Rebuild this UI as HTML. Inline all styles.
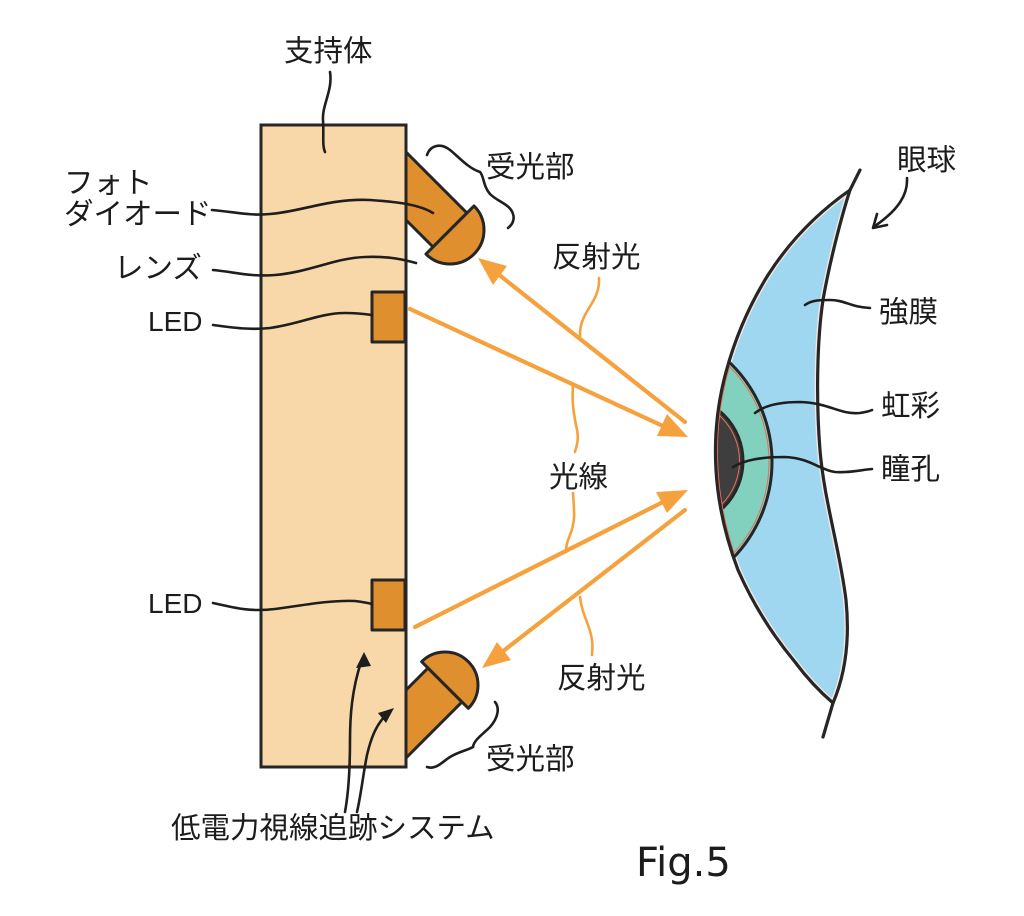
<!DOCTYPE html>
<html>
<head>
<meta charset="utf-8">
<style>
  html,body{margin:0;padding:0;background:#ffffff;}
  svg{display:block;}
  .lbl{font-family:"Liberation Sans","Noto Sans CJK JP",sans-serif;font-size:29.5px;fill:#1c1c1c;}
  .lat{font-family:"Liberation Sans","Noto Sans CJK JP",sans-serif;font-size:28px;fill:#1c1c1c;}
  .fig{font-family:"DejaVu Sans","Liberation Sans",sans-serif;font-size:40px;fill:#1c1c1c;}
  .ld{fill:none;stroke:#1e1e1e;stroke-width:2.6;stroke-linecap:round;}
  .ol{fill:none;stroke:#f5a23e;stroke-width:2.6;stroke-linecap:round;}
  .ray{fill:none;stroke:#f5a23e;stroke-width:4.2;stroke-linecap:round;}
  .ah{fill:#f5a23e;stroke:none;}
  .comp{fill:#e08f2e;stroke:#262626;stroke-width:3;stroke-linejoin:round;}
</style>
</head>
<body>
<svg width="1024" height="916" viewBox="0 0 1024 916" xmlns="http://www.w3.org/2000/svg">
  <defs>
    <clipPath id="eyeClip">
      <path d="M850,190 Q800,225 768,275 Q740,320 726,372 Q713,420 716,470 Q719,520 738,570 Q760,620 795,662 Q812,685 833,703 C845,675 850,640 846,600 C840,550 824,500 820,450 C816,400 817,340 823,300 C830,260 842,215 850,190 Z"/>
    </clipPath>
    <clipPath id="irisClip">
      <circle cx="634" cy="462" r="136"/>
    </clipPath>
  </defs>

  <!-- photodiode bodies (drawn under support) -->
  <g transform="translate(450,230) rotate(45)">
    <rect class="comp" x="-85" y="-24" width="85" height="48"/>
  </g>
  <g transform="translate(445,685) rotate(-45)">
    <rect class="comp" x="-85" y="-24" width="85" height="48"/>
  </g>

  <!-- support -->
  <rect x="261" y="125" width="145" height="642" fill="#f8d8a8" stroke="#262626" stroke-width="3"/>

  <!-- lenses -->
  <g transform="translate(450,230) rotate(45)">
    <path class="comp" d="M0,-34 A34,34 0 0 1 0,34 Z"/>
  </g>
  <g transform="translate(445,685) rotate(-45)">
    <path class="comp" d="M0,-33 A33,33 0 0 1 0,33 Z"/>
  </g>

  <!-- LEDs -->
  <rect class="comp" x="372" y="292" width="33" height="50"/>
  <rect class="comp" x="372" y="580" width="33" height="50"/>

  <!-- eye -->
  <path d="M850,190 Q800,225 768,275 Q740,320 726,372 Q713,420 716,470 Q719,520 738,570 Q760,620 795,662 Q812,685 833,703 C845,675 850,640 846,600 C840,550 824,500 820,450 C816,400 817,340 823,300 C830,260 842,215 850,190 Z" fill="#9fd7f1"/>
  <g clip-path="url(#eyeClip)">
    <path d="M850,190 Q800,225 768,275 Q740,320 726,372 Q713,420 716,470 Q719,520 738,570 Q760,620 795,662 Q812,685 833,703 C845,675 850,640 846,600 C840,550 824,500 820,450 C816,400 817,340 823,300 C830,260 842,215 850,190 Z" fill="none" stroke="#f4e6e0" stroke-width="6"/>
    <circle cx="634" cy="462" r="138" fill="#82d1bf" stroke="#262626" stroke-width="3"/>
    <circle cx="634" cy="462" r="135" fill="none" stroke="#e8705a" stroke-width="1"/>
    <circle cx="678" cy="461" r="65" fill="#3e3e3e" stroke="#262626" stroke-width="3"/>
    <circle cx="678" cy="461" r="61.5" fill="none" stroke="#e8705a" stroke-width="1"/>
    <g clip-path="url(#irisClip)">
      <path d="M850,190 Q800,225 768,275 Q740,320 726,372 Q713,420 716,470 Q719,520 738,570 Q760,620 795,662 Q812,685 833,703" fill="none" stroke="#e8705a" stroke-width="5"/>
    </g>
  </g>
  <path d="M850,190 Q800,225 768,275 Q740,320 726,372 Q713,420 716,470 Q719,520 738,570 Q760,620 795,662 Q812,685 833,703" fill="none" stroke="#262626" stroke-width="3.2" stroke-linecap="round"/>
  <path d="M860,170 L850,190 C842,215 830,260 823,300 C817,340 816,400 820,450 C824,500 840,550 846,600 C850,640 845,675 833,703 L823,737" fill="none" stroke="#262626" stroke-width="3.2" stroke-linecap="round" stroke-linejoin="round"/>

  <!-- rays -->
  <line class="ray" x1="410" y1="309" x2="665" y2="427"/>
  <polygon class="ah" points="688,437 657,436 667,414"/>
  <line class="ray" x1="685" y1="422" x2="498" y2="274"/>
  <polygon class="ah" points="478,258 507,266 493,285"/>
  <line class="ray" x1="415" y1="627" x2="665" y2="501"/>
  <polygon class="ah" points="688,490 667,513 656,492"/>
  <line class="ray" x1="685" y1="510" x2="502" y2="652"/>
  <polygon class="ah" points="482,668 497,642 511,660"/>

  <!-- orange leaders -->
  <path class="ol" d="M599,278 C600,295 590,305 585,315 C580,325 580,330 580,338"/>
  <path class="ol" d="M573,385 C572,400 573,410 576,425 C580,440 576,447 575,452"/>
  <path class="ol" d="M573,493 C574,510 576,520 570,535 C566,545 566,548 566,552"/>
  <path class="ol" d="M580,597 C582,615 590,625 592,640 C593,648 592,652 592,655"/>

  <!-- black leaders -->
  <path class="ld" d="M330,72 C333,90 322,105 323,120 C324,135 322,145 325,152"/>
  <path class="ld" d="M212,210 C235,212 250,216 270,214 C300,212 330,198 370,200 C400,202 420,205 433,213"/>
  <path class="ld" d="M213,270 C235,272 250,277 275,275 C310,272 335,258 365,257 C390,256 405,260 416,263"/>
  <path class="ld" d="M213,325 C235,328 250,330 270,328 C300,324 320,313 345,313 C358,313 365,314 372,315"/>
  <path class="ld" d="M213,603 C235,608 250,612 275,609 C305,605 330,600 355,601 C363,602 368,603 372,604"/>

  <!-- curly braces -->
  <path class="ld" d="M427,155 C430,146 440,142 450,150 C460,158 468,168 480,172 C484,176 483,186 490,194 C498,202 510,204 513,214 C515,220 512,225 508,228"/>
  <path class="ld" d="M495,702 C500,708 498,718 490,727 C482,735 474,740 473,747 C468,750 458,752 450,757 C442,762 436,770 427,767"/>

  <!-- system arrows -->
  <path class="ld" d="M345,812 C349,790 350,765 350,740 C350,715 352,690 361,662"/>
  <polygon points="364,652 356,668 371,666" fill="#1e1e1e"/>
  <path class="ld" d="M357,812 C361,795 363,775 367,755 C371,738 376,725 386,715"/>
  <polygon points="394,708 386,723 378,713" fill="#1e1e1e"/>

  <!-- eyeball arrow -->
  <path class="ld" d="M907,178 C908,195 898,210 875,226"/>
  <polyline class="ld" points="877,214 873,228 887,225" stroke-linejoin="round"/>

  <!-- eye leaders -->
  <path class="ld" d="M805,305 C812,300 820,300 830,300 C845,300 850,307 870,308"/>
  <path class="ld" d="M755,413 C765,405 780,402 800,402 C830,403 840,415 860,413 C866,412 870,411 872,410"/>
  <path class="ld" d="M733,467 C745,460 760,457 785,457 C810,458 820,470 835,472 C850,473 860,470 872,469"/>

  <!-- labels -->
  <text class="lbl" x="284" y="61">支持体</text>
  <text class="lbl" x="64" y="193">フォト</text>
  <text class="lbl" x="64" y="224">ダイオード</text>
  <text class="lbl" x="114" y="278">レンズ</text>
  <text class="lat" x="148" y="331">LED</text>
  <text class="lat" x="148" y="613">LED</text>
  <text class="lbl" x="486" y="177">受光部</text>
  <text class="lbl" x="552" y="267">反射光</text>
  <text class="lbl" x="549" y="487">光線</text>
  <text class="lbl" x="557" y="688">反射光</text>
  <text class="lbl" x="486" y="769">受光部</text>
  <text class="lbl" x="171" y="838">低電力視線追跡システム</text>
  <text class="lbl" x="897" y="170">眼球</text>
  <text class="lbl" x="879" y="322">強膜</text>
  <text class="lbl" x="881" y="416">虹彩</text>
  <text class="lbl" x="881" y="479">瞳孔</text>
  <text class="fig" x="636" y="876">Fig.5</text>
</svg>
</body>
</html>
